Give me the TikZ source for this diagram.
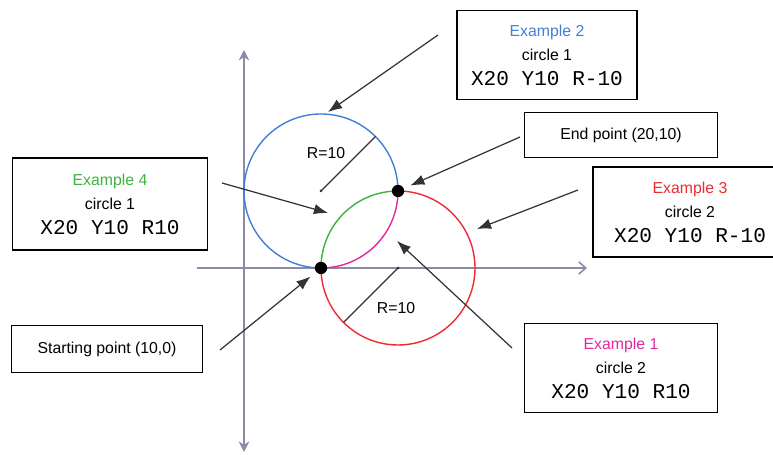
\documentclass[tikz,border=0pt]{standalone}
\usepackage{fontspec}
\setmainfont{Liberation Sans}
\setmonofont{Liberation Mono}
\usetikzlibrary{arrows.meta,calc}
\definecolor{ExBlue}{HTML}{3F7FD6}
\definecolor{ExGreen}{HTML}{3DB23F}
\definecolor{ExRed}{HTML}{EE2A32}
\definecolor{ExMagenta}{HTML}{E2289B}
\definecolor{AxisGray}{HTML}{8C8AA6}
\definecolor{ArrGray}{HTML}{333333}
\newcommand{\cnccode}[1]{{\fontsize{12}{15}\selectfont\ttfamily #1}}

\begin{document}
\begin{tikzpicture}[
  x=0.02cm, y=0.02cm,
  box/.style={draw, line width=1pt, align=center, font=\fontsize{9}{14}\selectfont, inner sep=0pt},
  arr/.style={-{Latex[length=8pt,width=6pt]}, ArrGray, line width=0.7pt},
  axis/.style={AxisGray, line width=0.9pt},
  dot/.style={circle, fill=black, inner sep=0pt, minimum size=7pt},
  lbl/.style={font=\fontsize{9}{11}\selectfont}
]
\useasboundingbox (0,0) rectangle (773,455);

% axes
\coordinate (xl) at (197,187);
\coordinate (xr) at (587,187);
\coordinate (yb) at (244,3);
\coordinate (yt) at (244,405);
\draw[axis, -{Straight Barb[length=4pt,width=7pt]}] (xl) -- (xr);
\draw[axis, {Stealth[length=6pt,width=6pt]}-{Stealth[length=6pt,width=6pt]}] (yb) -- (yt);

% circles
\coordinate (c1) at (321,264);
\coordinate (c2) at (398,187);
\draw[ExBlue, line width=0.8pt] (c1) ++(0:77) arc[start angle=0, end angle=270, radius=77];
\draw[ExMagenta, line width=0.8pt] (c1) ++(270:77) arc[start angle=270, end angle=360, radius=77];
\draw[ExRed, line width=0.8pt] (c2) ++(90:77) arc[start angle=90, end angle=-180, radius=77];
\draw[ExGreen, line width=0.8pt] (c2) ++(180:77) arc[start angle=180, end angle=90, radius=77];

% radii
\fill[ArrGray] (c1) circle (1.5);
\fill[ArrGray] (c2) circle (1.5);
\draw[ArrGray, line width=0.7pt] (c1) -- ($(c1)+(45:77)$);
\draw[ArrGray, line width=0.7pt] (c2) -- ($(c2)+(225:77)$);
\node[lbl] (r1) at (326,302) {R=10};
\node[lbl] (r2) at (396,147) {R=10};

% start and end points
\node[dot] (startpt) at (321,187) {};
\node[dot] (endpt) at (398,264) {};

% boxes
\node[box, minimum width=3.6cm, minimum height=1.78cm] (ex2) at (547,400) {{\color{ExBlue}Example 2}\\circle 1\\\cnccode{X20 Y10 R-10}};
\node[box, minimum width=3.86cm, minimum height=0.9cm] (endbox) at (621,320) {End point (20,10)};
\node[box, minimum width=3.88cm, minimum height=1.8cm] (ex3) at (690,243) {{\color{ExRed}Example 3}\\circle 2\\\cnccode{X20 Y10 R-10}};
\node[box, minimum width=3.9cm, minimum height=1.84cm] (ex4) at (110,251) {{\color{ExGreen}Example 4}\\circle 1\\\cnccode{X20 Y10 R10}};
\node[box, minimum width=3.82cm, minimum height=0.94cm] (startbox) at (107,106) {Starting point (10,0)};
\node[box, minimum width=3.86cm, minimum height=1.78cm] (ex1) at (621,87) {{\color{ExMagenta}Example 1}\\circle 2\\\cnccode{X20 Y10 R10}};

% pointer arrows
\coordinate (a1) at (438,420);
\coordinate (t1) at (328,343);
\coordinate (a2) at (520,318);
\coordinate (a3) at (578,265);
\coordinate (t3) at (477,226);
\coordinate (a4) at (222,272);
\coordinate (t4) at (328,242);
\coordinate (a5) at (220,105);
\coordinate (a6) at (512,107);
\coordinate (t6) at (397,214);

\draw[arr] (a1) -- (t1);
\draw[arr, shorten >=4pt] (a2) -- (endpt);
\draw[arr] (a3) -- (t3);
\draw[arr] (a4) -- (t4);
\draw[arr, shorten >=4pt] (a5) -- (startpt);
\draw[arr] (a6) -- (t6);
\end{tikzpicture}
\end{document}
